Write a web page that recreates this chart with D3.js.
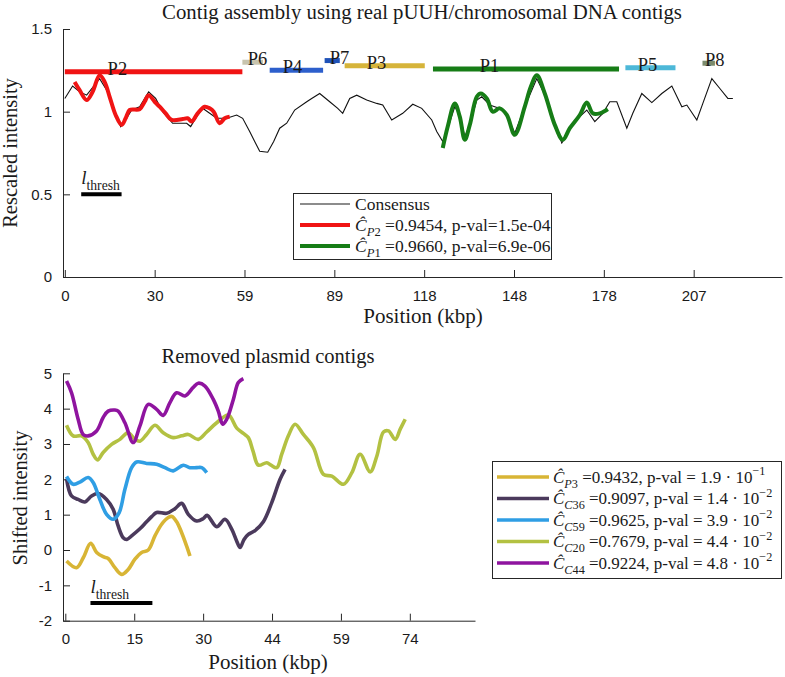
<!DOCTYPE html>
<html><head><meta charset="utf-8">
<script src="https://cdn.jsdelivr.net/npm/d3@7"></script>
<style>body{margin:0;background:#fff}svg{display:block}</style>
</head><body><svg id="c" width="785" height="677"></svg>
<script>
// ---------------- DATA ----------------
// Top panel
const topXTicks = [0, 29.6, 59.2, 88.8, 118.4, 148, 177.6, 207.2];
const topXTickLabels = ["0", "30", "59", "89", "118", "148", "178", "207"];
const topYTicks = [0, 0.5, 1, 1.5];
const topYTickLabels = ["0", "0.5", "1", "1.5"];

const consensusX = [0, 2.57, 4.88, 7.19, 11.47, 14.11, 16.08, 18.39, 20.04, 22.02, 24.65, 27.62, 29.93, 32.23, 35.53, 37.84, 40.14, 41.46, 43.44, 45.42, 47.73, 50.03, 53.33, 56.62, 58.60, 60.91, 62.56, 64.21, 66.85, 68.82, 70.80, 73.10, 75.74, 79.70, 81.34, 83.98, 87.28, 89.92, 91.56, 93.87, 96.18, 99.47, 102.77, 104.75, 107.71, 111.34, 114.64, 117.60, 120.90, 122.54, 124.52, 126.17, 128.48, 130.13, 131.78, 133.43, 135.73, 137.38, 140.02, 141.66, 143.31, 145.62, 148.26, 151.55, 155.51, 158.14, 161.44, 163.75, 165.39, 167.37, 169.68, 171.98, 174.62, 177.26, 179.56, 181.87, 185.17, 187.14, 190.11, 193.41, 196.70, 200.00, 203.30, 204.94, 208.24, 210.22, 213.18, 215.82, 218.46, 220.11];
const consensusY = [1.08, 1.155, 1.12, 1.10, 1.20, 1.12, 1.02, 0.91, 0.95, 1.01, 1.03, 1.12, 1.08, 1.00, 0.93, 0.93, 0.93, 0.91, 0.97, 1.02, 0.99, 0.96, 0.96, 0.98, 0.96, 0.88, 0.82, 0.76, 0.755, 0.82, 0.90, 0.93, 1.01, 1.06, 1.08, 1.11, 1.06, 1.02, 0.99, 1.08, 1.10, 1.07, 1.05, 1.04, 0.95, 0.99, 1.045, 1.02, 0.95, 0.88, 0.82, 0.90, 1.03, 0.98, 0.85, 0.92, 1.07, 1.09, 1.04, 1.03, 1.02, 0.98, 0.87, 1.03, 1.20, 1.10, 0.93, 0.81, 0.86, 0.93, 0.97, 1.01, 0.94, 0.99, 1.06, 1.06, 0.90, 0.99, 1.11, 1.055, 1.11, 1.155, 1.03, 1.04, 0.95, 1.05, 1.20, 1.14, 1.08, 1.08];

const p2X = [3.23, 4.88, 7.19, 9.16, 11.47, 13.12, 14.77, 16.74, 18.72, 20.04, 21.36, 24.65, 26.30, 27.62, 29.60, 31.25, 33.22, 35.20, 38.83, 40.47, 41.79, 43.77, 46.08, 47.73, 49.05, 51.03, 52.68, 54.33];
const p2Y = [1.18, 1.13, 1.07, 1.12, 1.22, 1.18, 1.09, 0.98, 0.92, 0.96, 1.01, 1.015, 1.06, 1.10, 1.06, 1.03, 0.99, 0.95, 0.955, 0.96, 0.94, 0.99, 1.03, 1.02, 1.00, 0.93, 0.96, 0.97];

const p1X = [124.52, 126.17, 128.48, 130.13, 131.78, 133.43, 135.73, 137.05, 139.03, 141.00, 143.31, 145.62, 148.26, 151.55, 153.53, 155.51, 158.14, 161.44, 164.08, 166.39, 169.68, 171.98, 173.96, 176.27, 178.91];
const p1Y = [0.78, 0.91, 1.05, 0.97, 0.83, 0.92, 1.09, 1.11, 1.08, 1.00, 1.02, 0.98, 0.86, 1.03, 1.15, 1.22, 1.11, 0.92, 0.83, 0.90, 0.98, 1.055, 0.99, 0.99, 1.015];

const contigNames = ["P2", "P6", "P4", "P7", "P3", "P1", "P5", "P8"];
const contigStart = [0, 58.5, 67.5, 85.6, 92.2, 121.3, 184.7, 210.1];
const contigEnd = [58.5, 65.3, 85.1, 90.6, 118.6, 182.6, 201.2, 214.2];
const contigLevel = [1.242, 1.299, 1.25, 1.309, 1.278, 1.258, 1.266, 1.293];
const contigLabelX = [14.1, 60.3, 71.8, 87.3, 99.5, 136.7, 188.8, 210.9];
const contigColors = ["#f01414", "#c8c4ae", "#2d5fcc", "#1f52b8", "#d6b43a", "#167d16", "#4db8d8", "#7b8b6d"];

const topLegendNames = ["Consensus", "P2", "P1"];
const topLegendCorr = [null, "0.9454", "0.9660"];
const topLegendPval = [null, "1.5e-04", "6.9e-06"];
const topLegendColors = ["#1a1a1a", "#f01414", "#167d16"];

const threshRange = [5.4, 18.7];

// Bottom panel
const botXTicks = [0, 14.8, 29.6, 44.4, 59.2, 74];
const botXTickLabels = ["0", "15", "30", "44", "59", "74"];
const botYTicks = [-2, -1, 0, 1, 2, 3, 4, 5];
const botYTickLabels = ["-2", "-1", "0", "1", "2", "3", "4", "5"];

const cP3X = [0.26, 2.41, 3.85, 5.44, 6.73, 8.13, 9.20, 10.65, 12.09, 13.51, 14.95, 16.39, 17.81, 19.25, 20.69, 22.11, 22.90, 23.91, 24.99, 26.06, 26.77];
const cP3Y = [-0.31, -0.50, -0.22, 0.19, -0.07, -0.19, -0.24, -0.50, -0.69, -0.55, -0.26, -0.07, 0.0, 0.40, 0.73, 0.92, 0.95, 0.80, 0.49, 0.11, -0.17];

const c36X = [0.26, 1.33, 2.75, 4.19, 5.63, 7.05, 8.86, 10.28, 11.35, 12.43, 13.23, 14.24, 16.02, 17.46, 18.60, 19.61, 21.76, 23.55, 24.99, 26.41, 28.21, 29.65, 30.45, 32.52, 34.30, 35.74, 36.82, 37.53, 38.39, 39.31, 40.75, 42.54, 44.34, 46.13, 47.20];
const c36Y = [2.02, 1.53, 1.43, 1.36, 1.53, 1.60, 1.43, 1.15, 0.68, 0.35, 0.30, 0.40, 0.60, 0.80, 0.95, 1.06, 1.04, 1.17, 1.32, 1.01, 0.82, 0.89, 0.98, 0.66, 0.87, 0.59, 0.25, 0.07, 0.30, 0.44, 0.55, 0.80, 1.34, 2.00, 2.28];

const c59X = [0.26, 1.68, 3.12, 4.90, 5.98, 7.42, 8.86, 10.28, 11.57, 12.80, 14.24, 15.31, 17.46, 19.61, 21.40, 23.18, 25.33, 26.77, 28.21, 29.29, 30.37];
const c59Y = [2.08, 1.86, 1.92, 2.05, 1.91, 1.43, 1.01, 0.87, 1.06, 1.72, 2.33, 2.49, 2.45, 2.43, 2.33, 2.24, 2.40, 2.33, 2.33, 2.33, 2.19];

const c20X = [0.26, 1.68, 3.48, 4.90, 5.98, 6.92, 8.13, 9.94, 11.72, 13.51, 14.95, 16.02, 17.46, 19.25, 21.03, 23.18, 24.99, 26.41, 28.56, 30.37, 32.52, 35.01, 36.82, 38.24, 39.31, 40.32, 41.46, 43.27, 44.19, 45.42, 46.49, 47.91, 49.35, 51.14, 53.29, 55.44, 57.25, 59.74, 61.55, 63.33, 65.48, 66.92, 68.34, 69.42, 70.86, 71.94, 73.01];
const c20Y = [3.53, 3.23, 3.23, 3.04, 2.71, 2.55, 2.76, 2.99, 3.13, 3.32, 3.13, 3.08, 3.27, 3.53, 3.32, 3.18, 3.23, 3.27, 3.13, 3.34, 3.60, 3.82, 3.45, 3.30, 3.18, 2.80, 2.40, 2.47, 2.40, 2.33, 2.71, 3.23, 3.56, 3.27, 2.90, 2.14, 2.09, 1.86, 2.19, 2.71, 2.21, 2.66, 3.34, 3.37, 3.13, 3.42, 3.70];

const c44X = [0.26, 1.33, 2.75, 3.83, 4.90, 6.71, 8.13, 9.20, 10.65, 11.35, 12.80, 14.58, 16.02, 17.81, 19.61, 21.03, 22.47, 23.91, 25.70, 27.48, 28.56, 30.0, 31.78, 32.86, 33.81, 34.67, 36.09, 37.16, 38.24];
const c44Y = [4.78, 4.45, 3.70, 3.27, 3.23, 3.37, 3.75, 3.93, 3.96, 3.93, 3.60, 3.04, 3.51, 4.12, 3.98, 3.81, 4.17, 4.45, 4.36, 4.60, 4.72, 4.64, 4.26, 3.93, 3.56, 3.70, 4.26, 4.74, 4.85];

const botNames = ["P3", "C36", "C59", "C20", "C44"];
const botCorr = ["0.9432", "0.9097", "0.9625", "0.7679", "0.9224"];
const botPMant = ["1.9", "1.4", "3.9", "4.4", "4.8"];
const botPExp = ["\u22121", "\u22122", "\u22122", "\u22122", "\u22122"];
const botColors = ["#d8b535", "#4b3a5c", "#2f9ee4", "#b3c142", "#8f149f"];

// ---------------- DRAWING ----------------
const SERIF = "'Liberation Serif', 'DejaVu Serif', serif";
const SANS = "'Liberation Sans', Arial, sans-serif";
const TXT = "#1a1a1a";
const AX = "#262626";
const svg = d3.select("#c");

function rich(sel, x, y, parts, fs) {
  const t = sel.append("text").attr("x", x).attr("y", y)
    .attr("font-size", fs).attr("font-family", SERIF).attr("fill", TXT);
  let cur = 0;
  parts.forEach(p => {
    const shift = p.sub ? fs * 0.3 : (p.sup ? -fs * 0.42 : 0);
    const ts = t.append("tspan").text(p.t).attr("dy", shift - cur);
    cur = shift;
    if (p.it) ts.attr("font-style", "italic");
    if (p.sub || p.sup) ts.attr("font-size", fs * 0.72);
  });
  return t;
}
function chat(name) {
  return [{t: "\u0108", it: 1}, {t: name[0], it: 1, sub: 1}, {t: name.slice(1), sub: 1}];
}
function styleAxis(g) {
  g.select(".domain").attr("stroke", AX).attr("stroke-width", 1);
  g.selectAll(".tick line").attr("stroke", AX);
  g.selectAll(".tick text").attr("font-family", SANS).attr("font-size", 15).attr("fill", TXT);
}

// ===== Top panel =====
const xT = d3.scaleLinear().domain([-0.6, 236.3]).range([63, 782]);
const yT = d3.scaleLinear().domain([0, 1.5]).range([277, 29]);

svg.append("g").attr("transform", "translate(0,277)")
  .call(d3.axisBottom(xT).tickValues(topXTicks).tickFormat((d, i) => topXTickLabels[i])
    .tickSizeInner(-7).tickSizeOuter(0).tickPadding(13))
  .call(styleAxis);
svg.append("g").attr("transform", "translate(63,0)")
  .call(d3.axisLeft(yT).tickValues(topYTicks).tickFormat((d, i) => topYTickLabels[i])
    .tickSizeInner(-7).tickSizeOuter(0).tickPadding(11))
  .call(styleAxis);

svg.append("text").attr("x", 422).attr("y", 19).attr("text-anchor", "middle")
  .attr("font-family", SERIF).attr("font-size", 20.8).attr("fill", TXT)
  .text("Contig assembly using real pUUH/chromosomal DNA contigs");
svg.append("text").attr("x", 423).attr("y", 323).attr("text-anchor", "middle")
  .attr("font-family", SERIF).attr("font-size", 21).attr("fill", TXT).text("Position (kbp)");
svg.append("text").attr("transform", "translate(17,153) rotate(-90)").attr("text-anchor", "middle")
  .attr("font-family", SERIF).attr("font-size", 20.5).attr("fill", TXT).text("Rescaled intensity");

const lineT = d3.line().x(d => xT(d[0])).y(d => yT(d[1]));
const smoothT = d3.line().x(d => xT(d[0])).y(d => yT(d[1])).curve(d3.curveCatmullRom.alpha(0.5));

svg.append("path").datum(consensusX.map((x, i) => [x, consensusY[i]]))
  .attr("d", lineT).attr("fill", "none").attr("stroke", "#111").attr("stroke-width", 1.1);
svg.append("path").datum(p2X.map((x, i) => [x, p2Y[i]]))
  .attr("d", smoothT).attr("fill", "none").attr("stroke", topLegendColors[1]).attr("stroke-width", 4).attr("stroke-linejoin", "round");
svg.append("path").datum(p1X.map((x, i) => [x, p1Y[i]]))
  .attr("d", smoothT).attr("fill", "none").attr("stroke", topLegendColors[2]).attr("stroke-width", 4).attr("stroke-linejoin", "round");

// contig bars
contigNames.forEach((n, i) => {
  svg.append("line").attr("x1", xT(contigStart[i])).attr("x2", xT(contigEnd[i]))
    .attr("y1", yT(contigLevel[i])).attr("y2", yT(contigLevel[i]))
    .attr("stroke", contigColors[i]).attr("stroke-width", 5);
});
contigNames.forEach((n, i) => {
  svg.append("text").attr("x", xT(contigLabelX[i])).attr("y", yT(contigLevel[i]) + 3)
    .attr("font-family", SERIF).attr("font-size", 18.5).attr("fill", TXT).text(n);
});

// l_thresh (top)
svg.append("line").attr("x1", xT(threshRange[0])).attr("x2", xT(threshRange[1]))
  .attr("y1", yT(0.5)).attr("y2", yT(0.5)).attr("stroke", "#000").attr("stroke-width", 4);
rich(svg, xT(threshRange[0]), yT(0.5) - 10, [{t: "l", it: 1}, {t: "thresh", sub: 1}], 19);

// top legend
const lgT = svg.append("g");
lgT.append("rect").attr("x", 293.5).attr("y", 193.5).attr("width", 258).attr("height", 66)
  .attr("fill", "#fff").attr("stroke", AX).attr("stroke-width", 1);
const topRowY = [204, 225, 246];
topLegendNames.forEach((n, i) => {
  lgT.append("line").attr("x1", 300).attr("x2", 350).attr("y1", topRowY[i]).attr("y2", topRowY[i])
    .attr("stroke", topLegendColors[i]).attr("stroke-width", i === 0 ? 1.1 : 4);
  const parts = i === 0 ? [{t: n}] :
    chat(n).concat([{t: " =" + topLegendCorr[i] + ", p-val=" + topLegendPval[i]}]);
  rich(lgT, 355, topRowY[i] + 5.5, parts, 17.5);
});

// ===== Bottom panel =====
const xB = d3.scaleLinear().domain([-0.5, 88]).range([63, 475]);
const yB = d3.scaleLinear().domain([-2, 5]).range([620.7, 373.3]);

svg.append("g").attr("transform", "translate(0,620.7)")
  .call(d3.axisBottom(xB).tickValues(botXTicks).tickFormat((d, i) => botXTickLabels[i])
    .tickSizeInner(-7).tickSizeOuter(0).tickPadding(13))
  .call(styleAxis);
svg.append("g").attr("transform", "translate(63,0)")
  .call(d3.axisLeft(yB).tickValues(botYTicks).tickFormat((d, i) => botYTickLabels[i])
    .tickSizeInner(-7).tickSizeOuter(0).tickPadding(11))
  .call(styleAxis);

svg.append("text").attr("x", 268).attr("y", 363).attr("text-anchor", "middle")
  .attr("font-family", SERIF).attr("font-size", 20.5).attr("fill", TXT).text("Removed plasmid contigs");
svg.append("text").attr("x", 268).attr("y", 669).attr("text-anchor", "middle")
  .attr("font-family", SERIF).attr("font-size", 21).attr("fill", TXT).text("Position (kbp)");
svg.append("text").attr("transform", "translate(27,498) rotate(-90)").attr("text-anchor", "middle")
  .attr("font-family", SERIF).attr("font-size", 20.5).attr("fill", TXT).text("Shifted intensity");

const smoothB = d3.line().x(d => xB(d[0])).y(d => yB(d[1])).curve(d3.curveCatmullRom.alpha(0.5));
const botSeries = [[cP3X, cP3Y], [c36X, c36Y], [c59X, c59Y], [c20X, c20Y], [c44X, c44Y]];
botSeries.forEach((s, k) => {
  svg.append("path").datum(s[0].map((x, i) => [x, s[1][i]]))
    .attr("d", smoothB).attr("fill", "none").attr("stroke", botColors[k])
    .attr("stroke-width", 3.6).attr("stroke-linejoin", "round");
});

// l_thresh (bottom)
svg.append("line").attr("x1", xB(threshRange[0])).attr("x2", xB(threshRange[1]))
  .attr("y1", yB(-1.5)).attr("y2", yB(-1.5)).attr("stroke", "#000").attr("stroke-width", 4);
rich(svg, xB(threshRange[0]), yB(-1.5) - 10, [{t: "l", it: 1}, {t: "thresh", sub: 1}], 19);

// bottom legend
const lgB = svg.append("g");
lgB.append("rect").attr("x", 492.5).attr("y", 461.5).attr("width", 289).attr("height", 117)
  .attr("fill", "#fff").attr("stroke", AX).attr("stroke-width", 1);
botNames.forEach((n, i) => {
  const yy = 477 + i * 21.5;
  lgB.append("line").attr("x1", 497).attr("x2", 549).attr("y1", yy).attr("y2", yy)
    .attr("stroke", botColors[i]).attr("stroke-width", 3.6);
  const parts = chat(n).concat([
    {t: " =" + botCorr[i] + ", p-val = " + botPMant[i] + " \u00b7 10"},
    {t: botPExp[i], sup: 1}]);
  rich(lgB, 553, yy + 5.5, parts, 17);
});
</script>
</body></html>
